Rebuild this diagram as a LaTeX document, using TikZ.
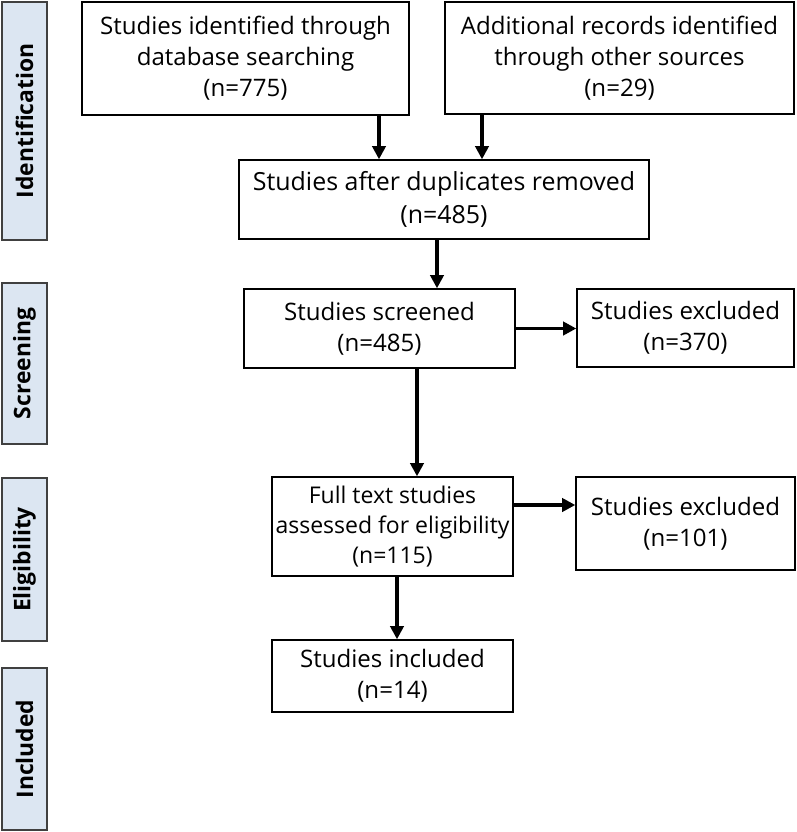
\documentclass[tikz,border=0pt]{standalone}
\usepackage{fontspec}
\setmainfont{Open Sans}
\usepackage{xcolor}
\usepackage{tikz}
\usetikzlibrary{arrows.meta}

\definecolor{phasefill}{HTML}{DCE6F2}
\definecolor{phaseline}{HTML}{404040}

\begin{document}
\begin{tikzpicture}[x=0.02cm,y=-0.02cm,>={Triangle[length=7.5pt,width=7.5pt]},
  flowbox/.style={draw,line width=0.8pt,align=center,inner sep=2pt,
    font=\fontsize{13.7}{17.6}\selectfont},
  phasebar/.style={draw=phaseline,fill=phasefill,line width=0.9pt,rotate=90,
    minimum height=0.9cm,inner sep=0pt,font=\fontsize{13}{16}\selectfont\bfseries},
  flowarrow/.style={->,line width=2.2pt}]
  \useasboundingbox (0,0) rectangle (796,832);
  % phase bars on the left
  \node[phasebar,minimum width=4.76cm] (ident) at (24.5,121) {Identification};
  \node[phasebar,minimum width=3.22cm] (screen) at (24.5,363.5) {Screening};
  \node[phasebar,minimum width=3.26cm] (elig) at (24.5,559.5) {Eligibility};
  \node[phasebar,minimum width=3.24cm] (incl) at (24.5,749) {Included};
  % boxes
  \node[flowbox,minimum width=6.54cm,minimum height=2.26cm] (dbsearch) at (245.5,58.5)
    {Studies identified through\\database searching\\(n=775)};
  \node[flowbox,minimum width=6.98cm,minimum height=2.24cm] (othersrc) at (619.5,58)
    {Additional records identified\\through other sources\\(n=29)};
  \node[flowbox,minimum width=8.2cm,minimum height=1.58cm,
    font=\fontsize{14.2}{18.5}\selectfont] (dedup) at (444,199.5)
    {Studies after duplicates removed\\(n=485)};
  \node[flowbox,minimum width=5.42cm,minimum height=1.58cm] (screened) at (379.5,328.5)
    {Studies screened\\(n=485)};
  \node[flowbox,minimum width=4.34cm,minimum height=1.56cm] (excl1) at (685.5,328)
    {Studies excluded\\(n=370)};
  \node[flowbox,minimum width=4.82cm,minimum height=1.98cm,inner xsep=1pt,
    font=\fontsize{13.1}{17.2}\selectfont] (fulltext) at (392.5,526.5)
    {Full text studies\\assessed for eligibility\\(n=115)};
  \node[flowbox,minimum width=4.38cm,minimum height=1.86cm] (excl2) at (685.5,523.5)
    {Studies excluded\\(n=101)};
  \node[flowbox,minimum width=4.82cm,minimum height=1.44cm] (included) at (392.5,676)
    {Studies included\\(n=14)};
  % arrow positions
  \coordinate (x1) at (379,0);
  \coordinate (x2) at (482,0);
  \coordinate (x3) at (437,0);
  \coordinate (x4) at (417,0);
  \coordinate (x5) at (397,0);
  \coordinate (y1) at (0,505);
  % connectors
  \draw[flowarrow] (dbsearch.south -| x1) -- (dedup.north -| x1);
  \draw[flowarrow] (othersrc.south -| x2) -- (dedup.north -| x2);
  \draw[flowarrow] (dedup.south -| x3) -- (screened.north -| x3);
  \draw[flowarrow] (screened.east) -- (screened.east -| excl1.west);
  \draw[flowarrow] (screened.south -| x4) -- (fulltext.north -| x4);
  \draw[flowarrow] (fulltext.east |- y1) -- (excl2.west |- y1);
  \draw[flowarrow] (fulltext.south -| x5) -- (included.north -| x5);
\end{tikzpicture}
\end{document}
